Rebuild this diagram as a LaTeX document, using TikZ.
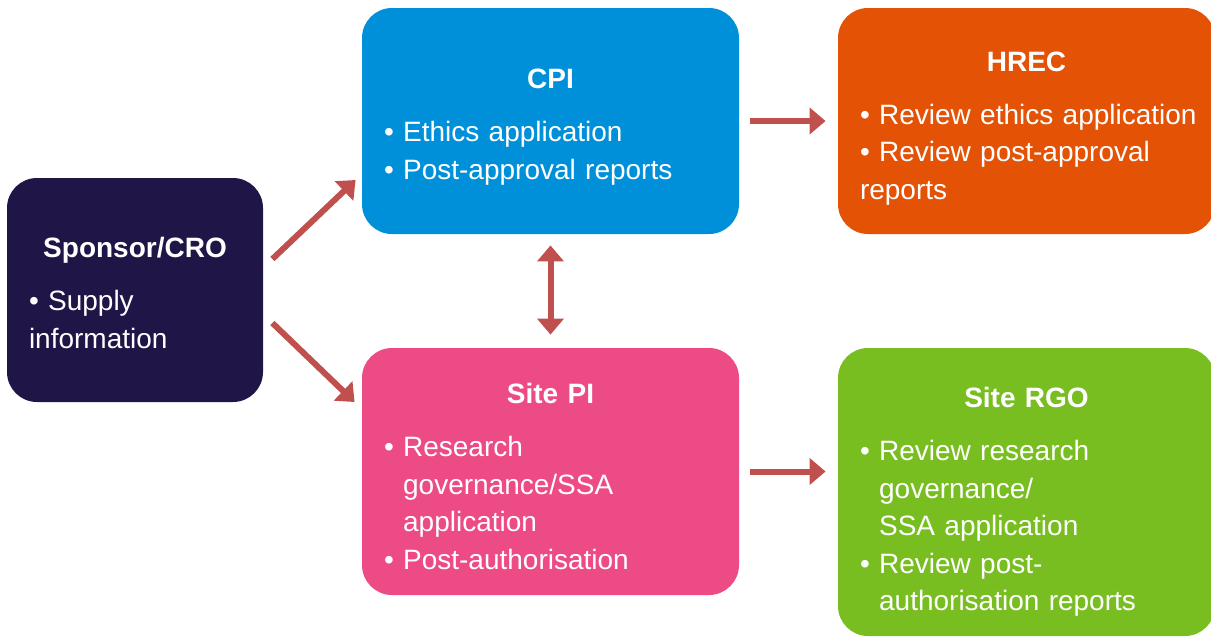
\documentclass[tikz,border=0pt]{standalone}
\usepackage{fontspec}
\setmainfont{Liberation Sans}
\usetikzlibrary{arrows.meta,calc}

\definecolor{sponsornavy}{HTML}{201547}
\definecolor{cpiblue}{HTML}{0090DA}
\definecolor{hrecorange}{HTML}{E35205}
\definecolor{sitepink}{HTML}{EC4B86}
\definecolor{rgogreen}{HTML}{78BE20}
\definecolor{arrowred}{HTML}{C0504D}

\setlength{\parindent}{0pt}
% optional argument: extra room above the title, pushes the text down
\newcommand{\boxtitle}[2][6pt]{{\centering\rule{0pt}{\dimexpr10pt+#1\relax}\bfseries #2\par}\vspace{7.75pt}\raggedright}
\newcommand{\bitem}[1]{\mbox{\textbullet\ #1}}
\newcommand{\bhang}[1]{\mbox{\phantom{\textbullet\ }#1}}

\begin{document}
\begin{tikzpicture}[x=0.5pt, y=-0.5pt]
  \tikzstyle{box} = [rectangle, rounded corners=15pt, text=white,
    inner xsep=11pt, inner ysep=0pt, text width=166.5pt, minimum height=113pt,
    font=\fontsize{14pt}{18.75pt}\selectfont]
  \tikzstyle{line} = [draw=arrowred, line width=3pt,
    -{Triangle[length=8pt,width=13pt]}]

  \clip (0,0) rectangle (1211,639);

  % Place nodes
  \node [box, fill=cpiblue] (cpi) at (550.5,121) {\boxtitle{CPI}
    \bitem{Ethics application}\\
    \bitem{Post-approval reports}};
  \node [box, fill=hrecorange, right of=cpi, node distance=238pt] (hrec) {\boxtitle[7pt]{HREC}
    \bitem{Review ethics application}\\
    \bitem{Review post-approval}\\
    reports};
  \node [box, fill=sitepink, minimum height=123.5pt, below of=cpi,
    node distance=175.25pt] (pi) {\boxtitle[5pt]{Site PI}
    \bitem{Research}\\
    \bhang{governance/SSA}\\
    \bhang{application}\\
    \bitem{Post-authorisation}};
  \node [box, fill=rgogreen, minimum height=144pt, below of=hrec,
    node distance=185.5pt] (rgo) {\boxtitle[10pt]{Site RGO}
    \bitem{Review research}\\
    \bhang{governance/}\\
    \bhang{SSA application}\\
    \bitem{Review post-}\\
    \bhang{authorisation reports}};
  \node [box, fill=sponsornavy, text width=106pt, minimum height=112pt]
    (spon) at (135,290) {\boxtitle[3pt]{Sponsor/CRO}
    \bitem{Supply}\\
    information};

  % Draw edges
  \path [line] ($(spon.east)+(9,-31)$) -- ($(cpi.west)+(-6,59)$);
  \path [line] ($(spon.east)+(9,33)$) -- ($(pi.west)+(-7,-69.5)$);
  \path [line, {Triangle[length=8pt,width=13pt]}-{Triangle[length=8pt,width=13pt]}]
    ($(cpi.south)+(0,11)$) -- ($(pi.north)+(0,-13)$);
  \path [line, shorten <=5.5pt, shorten >=6pt] (cpi.east) -- (hrec.west);
  \path [line, shorten <=5.5pt, shorten >=6pt] (pi.east) -- (pi.east -| rgo.west);
\end{tikzpicture}
\end{document}
